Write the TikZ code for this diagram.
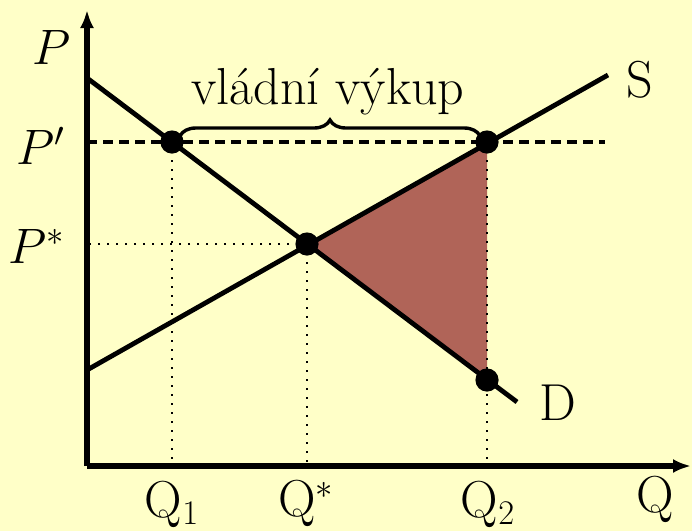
\documentclass[tikz,border=0pt]{standalone}
\usetikzlibrary{arrows.meta,decorations.pathreplacing}
\definecolor{bgyellow}{RGB}{255,255,200}
\definecolor{surplus}{RGB}{176,100,88}
\tikzset{
  curve/.style={line width=2.4pt},
  guide/.style={line width=1pt, dash pattern=on 0.9pt off 3.6pt},
  pt/.style={fill=black}
}
\begin{document}
\begin{tikzpicture}[x=0.5pt, y=-0.5pt, font=\fontsize{26}{30}\selectfont]
    \fill[bgyellow] (0,0) rectangle (692,531);
    \useasboundingbox (0,0) rectangle (692,531);

    % key points
    \coordinate (O) at (87,466);
    \coordinate (A) at (172,142);
    \coordinate (E) at (307,244);
    \coordinate (B) at (487,142);
    \coordinate (C) at (487,380);

    % surplus triangle
    \fill[surplus] (E) -- (B) -- (C) -- cycle;

    % dotted guides
    \foreach \p in {A,E,B}{
        \draw[guide] (\p) -- (\p |- O);
    }
    \draw[guide] (E) -- (E -| O);

    % axes
    \draw[line width=2.6pt, -{Latex[length=9pt,width=7pt]}] (O) -- (87,10);
    \draw[line width=2.6pt, -{Latex[length=9pt,width=7pt]}] (O) -- (691,466);

    % demand and supply
    \draw[curve] (87,78) -- (517,402);
    \draw[curve] (87,370) -- (608,75);

    % price floor
    \draw[line width=2.1pt, dash pattern=on 5pt off 3pt] (87,142) -- (605,142);

    % brace
    \draw[line width=1.7pt, decorate, decoration={brace, amplitude=8pt}]
        (180,136) -- (480,136);
    \node (buy) at (328,92) {vládní výkup};

    \foreach \p in {A,E,B,C}{
        \fill[pt] (\p) circle (5.8pt);
    }

    % labels
    \node (lP)  at (52,47)   {$P$};
    \node (lP1) at (41,146)  {$P'$};
    \node (lPs) at (37,246)  {$P^*$};
    \node (lQ1) at (172,504) {Q$_1$};
    \node (lQs) at (306,503) {Q$^*$};
    \node (lQ2) at (488,504) {Q$_2$};
    \node (lQ)  at (655,499) {Q};
    \node (lS)  at (640,80)  {S};
    \node (lD)  at (558,403) {D};
\end{tikzpicture}
\end{document}
